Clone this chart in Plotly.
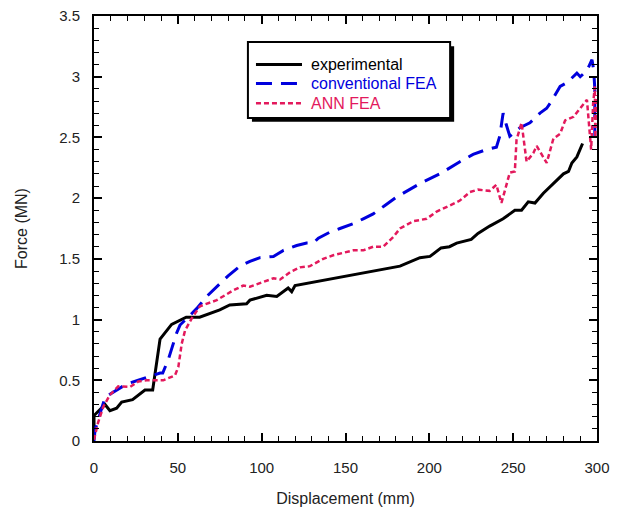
import plotly.graph_objects as go

# ---- data ----
exp_x = [0, 0, 6.6, 9.5, 13.5, 16.5, 23, 30.4, 35, 39.4, 46.3, 55, 63, 75, 81, 91, 93, 103, 109,
         115.8, 117.9, 119.9, 182.5, 194.4, 200.4, 207, 212, 216.3, 225, 229, 236, 244, 251, 255,
         259, 263, 268, 280, 283, 285, 288, 290, 291.4]
exp_y = [0.07, 0.21, 0.30, 0.25, 0.27, 0.32, 0.34, 0.42, 0.42, 0.84, 0.96, 1.02, 1.02, 1.08, 1.12,
         1.13, 1.16, 1.20, 1.19, 1.26, 1.23, 1.28, 1.44, 1.51, 1.52, 1.59, 1.60, 1.63, 1.66, 1.71,
         1.77, 1.83, 1.90, 1.90, 1.97, 1.96, 2.04, 2.20, 2.22, 2.29, 2.34, 2.40, 2.45]

conv_x = [0, 0.6, 6.6, 13.5, 19.5, 26.4, 33.4, 39.4, 41, 44.3, 49.3, 51.3, 56.2, 61.2, 67.2, 80, 87,
          93, 99, 107, 113, 120.9, 126.8, 130.8, 133.8, 140.7, 146.7, 154.6, 160.6, 166.5, 173.5,
          180.5, 194.4, 206.3, 218.2, 226.1, 234, 240, 242, 244, 246, 248, 254, 260, 266, 270, 272,
          278, 282, 286, 288, 290, 294, 297, 298, 298.7, 298.7]
conv_y = [0, 0.09, 0.36, 0.42, 0.47, 0.50, 0.535, 0.56, 0.56, 0.67, 0.89, 0.955, 1.02, 1.09, 1.19,
          1.36, 1.44, 1.48, 1.51, 1.52, 1.57, 1.61, 1.63, 1.63, 1.67, 1.72, 1.75, 1.79, 1.83, 1.87,
          1.94, 2.01, 2.12, 2.20, 2.30, 2.36, 2.40, 2.42, 2.51, 2.70, 2.60, 2.51, 2.58, 2.62, 2.70,
          2.74, 2.78, 2.92, 2.95, 3.00, 3.03, 3.00, 3.05, 3.14, 3.06, 2.90, 2.50]

ann_x = [0, 2.4, 5.5, 9.5, 14.5, 21.5, 26.4, 31.4, 41.3, 48.3, 50.3, 52.3, 54.3, 58.3, 63.2, 73.2,
         83, 89, 93, 99, 107, 111, 116.9, 122.8, 128.8, 136.7, 142.7, 148.7, 154.6, 160.6, 166.5,
         172.5, 178.5, 182.5, 190.4, 198.4, 204.4, 212.3, 218.2, 224.2, 229, 236, 240, 243, 247,
         248, 251, 252, 255, 258, 262, 264, 270, 274, 278, 281, 286, 290, 294, 296.5, 297.7, 298.7,
         299, 299.5]
ann_y = [0.01, 0.15, 0.28, 0.38, 0.45, 0.445, 0.49, 0.50, 0.50, 0.54, 0.61, 0.80, 0.91, 1.01, 1.11,
         1.16, 1.24, 1.28, 1.27, 1.30, 1.34, 1.33, 1.39, 1.43, 1.44, 1.50, 1.53, 1.55, 1.57, 1.57,
         1.60, 1.60, 1.68, 1.75, 1.81, 1.83, 1.89, 1.94, 1.98, 2.05, 2.07, 2.06, 2.11, 1.96, 2.15,
         2.21, 2.22, 2.48, 2.62, 2.30, 2.37, 2.43, 2.29, 2.49, 2.53, 2.64, 2.67, 2.74, 2.81, 2.40,
         2.78, 2.92, 2.50, 2.85]

series_names = ["experimental", "conventional FEA", "ANN FEA"]
x_ticks = [0, 50, 100, 150, 200, 250, 300]
y_ticks = [0, 0.5, 1, 1.5, 2, 2.5, 3, 3.5]
y_labels = ["0", "0.5", "1", "1.5", "2", "2.5", "3", "3.5"]

BLACK = "#000000"
BLUE = "#0000DD"
PINK = "#E3195C"
FONT = "Liberation Sans, Arial, sans-serif"
colors = [BLACK, BLUE, PINK]
dashes = ["solid", "16px,9px", "5px,3px"]
widths = [3, 3, 2.5]

fig = go.Figure()
for xs, ys, nm, c, d, w in zip([exp_x, conv_x, ann_x], [exp_y, conv_y, ann_y],
                                series_names, colors, dashes, widths):
    fig.add_trace(go.Scatter(x=xs, y=ys, mode="lines", name=nm, showlegend=False,
                             line=dict(color=c, width=w, dash=d)))

axis_common = dict(showline=True, linecolor="#000000", linewidth=2, mirror="allticks",
                   ticks="inside", ticklen=8, tickwidth=1.5, tickcolor="#000000",
                   showgrid=False, zeroline=False, automargin=False, layer="above traces",
                   tickfont=dict(family=FONT, size=15, color="#222"),
                   title_font=dict(family=FONT, size=16, color="#222"))

fig.update_xaxes(range=[0, 300], tickmode="array", tickvals=x_ticks,
                 ticktext=[str(v) for v in x_ticks],
                 title_text="Displacement (mm)", title_standoff=18, ticklabelstandoff=12,
                 minor=dict(ticks="inside", ticklen=5, dtick=10, tickcolor="#000000",
                            tickwidth=1, showgrid=False),
                 **axis_common)
fig.update_yaxes(range=[0, 3.5], tickmode="array", tickvals=y_ticks, ticktext=y_labels,
                 title_text="Force (MN)", title_standoff=28, ticklabelstandoff=9,
                 minor=dict(ticks="inside", ticklen=5, dtick=0.1, tickcolor="#000000",
                            tickwidth=1, showgrid=False),
                 **axis_common)

# legend box with drop shadow (manual legend)
fig.add_shape(type="rect", xref="paper", yref="paper", x0=0.314, x1=0.716, y0=0.751, y1=0.929,
              fillcolor="black", line=dict(width=0), layer="above")
fig.add_shape(type="rect", xref="paper", yref="paper", x0=0.306, x1=0.708, y0=0.760, y1=0.939,
              fillcolor="white", line=dict(color="black", width=2), layer="above")
rows_y = [0.886, 0.841, 0.795]
for nm, c, d, w, ry in zip(series_names, colors, dashes, widths, rows_y):
    fig.add_shape(type="line", xref="paper", yref="paper", x0=0.322, x1=0.4135, y0=ry, y1=ry,
                  line=dict(color=c, width=w, dash=d), layer="above")
    fig.add_annotation(xref="paper", yref="paper", x=0.427, y=ry, xanchor="left", yanchor="middle",
                       text=nm, showarrow=False, font=dict(family=FONT, size=16, color=c))

fig.update_layout(
    template="none",
    width=623, height=508,
    margin=dict(l=94, r=26, t=16, b=67, autoexpand=False),
    paper_bgcolor="white", plot_bgcolor="white",
    font=dict(family=FONT, size=15, color="#222"),
    showlegend=False,
)

fig.write_html("out.html")
